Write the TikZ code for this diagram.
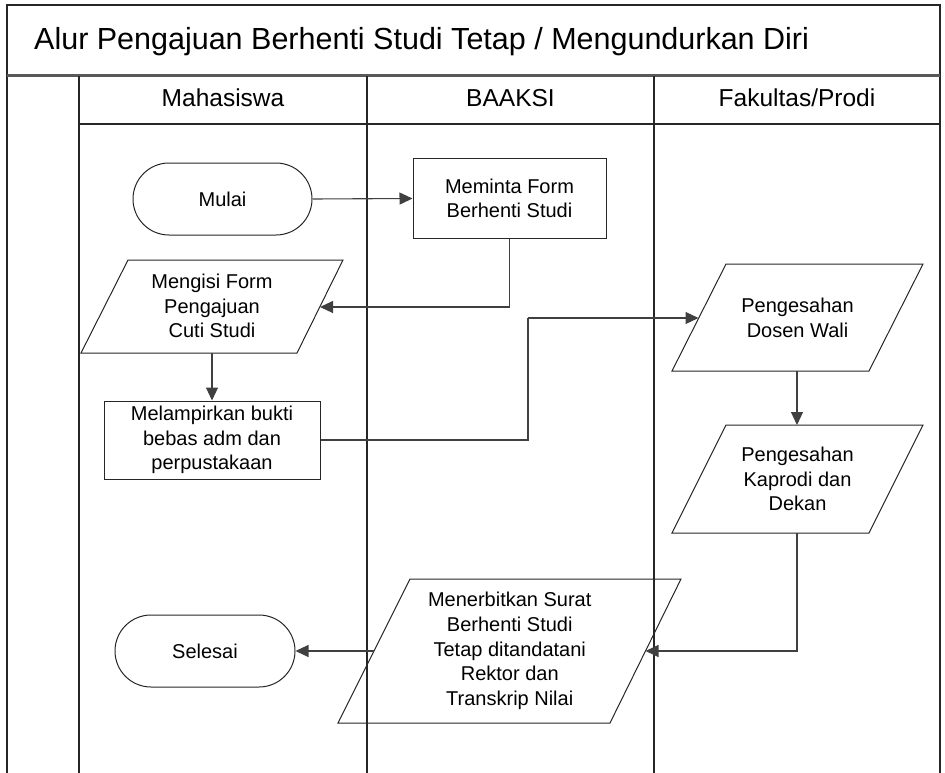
\documentclass[tikz,border=0pt]{standalone}
\usepackage{fontspec}
\setmainfont{Liberation Sans}
\usetikzlibrary{arrows.meta}
\tikzset{
  frame/.style={line width=1.3pt, black!85},
  sep/.style={line width=2.8pt, black!65},
  shp/.style={draw=black!85, line width=1pt},
  txt/.style={align=center, inner sep=0pt, font=\fontsize{20}{24.6}\selectfont},
  hdr/.style={anchor=base, inner sep=0pt, font=\fontsize{24.5}{28}\selectfont},
  conn/.style={draw=black!75, line width=1.1pt, -{Triangle[length=13pt,width=12pt]}},
  plain/.style={draw=black!75, line width=1.1pt},
  term/.style={shp, rounded corners=36pt, minimum width=179pt, minimum height=72pt, txt},
  box/.style={shp, txt}
}
\begin{document}
\begin{tikzpicture}[x=1pt,y=-1pt]
\useasboundingbox (0,0) rectangle (945,773);
% frame and lanes
\draw[frame] (7,773) -- (7,5) -- (940,5) -- (940,773);
\draw[sep] (7,75.5) -- (940,75.5);
\draw[frame] (79,76) -- (79,773);
\draw[frame] (367,76) -- (367,773);
\draw[frame] (654,76) -- (654,773);
\draw[frame] (79,124) -- (940,124);
\node[anchor=base west, inner sep=0pt, font=\fontsize{30.5}{34}\selectfont] (title) at (34,50) {Alur Pengajuan Berhenti Studi Tetap / Mengundurkan Diri};
\node[hdr] (h1) at (223,107) {Mahasiswa};
\node[hdr] (h2) at (510.5,107) {BAAKSI};
\node[hdr] (h3) at (797,107) {Fakultas/Prodi};

% shapes
\node[term] (mulai) at (222.5,199) {Mulai};
\node[box, minimum width=193pt, minimum height=79pt] (meminta) at (509.5,198.5) {Meminta Form\\Berhenti Studi};
\draw[shp] (128,260) -- (343,260) -- (297,353) -- (81,353) -- cycle;
\node[txt] (mengisi) at (212,306) {Mengisi Form\\Pengajuan\\Cuti Studi};
\node[box, minimum width=216pt, minimum height=78pt] (melampirkan) at (212,440) {Melampirkan bukti\\bebas adm dan\\perpustakaan};
\draw[shp] (726,264) -- (923,264) -- (869,371) -- (672,371) -- cycle;
\node[txt] (dosen) at (797.5,318) {Pengesahan\\Dosen Wali};
\draw[shp] (726,425) -- (923,425) -- (869,533) -- (672,533) -- cycle;
\node[txt] (kaprodi) at (797.5,479) {Pengesahan\\Kaprodi dan\\Dekan};
\draw[shp] (410,579) -- (681,579) -- (610,723) -- (338,723) -- cycle;
\node[txt] (terbit) at (509.75,651) {Menerbitkan Surat\\Berhenti Studi\\Tetap ditandatani\\Rektor dan\\Transkrip Nilai};
\node[term, minimum width=180pt] (selesai) at (205,651) {Selesai};

% connection points on parallelograms
\coordinate (mengisiR) at (320,307);
\coordinate (mengisiB) at (212,353);
\coordinate (dosenL) at (698.5,318);
\coordinate (dosenB) at (797,371);
\coordinate (kaprodiT) at (797,425);
\coordinate (kaprodiB) at (797,533);
\coordinate (terbitR) at (645.5,651);
\coordinate (terbitL) at (374,651);
\coordinate (bend1) at (528,318);

% connectors
\draw[conn] (mulai.east) -- (meminta.west);
\draw[conn] (meminta.south) |- (mengisiR);
\draw[conn] (mengisiB) -- (melampirkan.north);
\draw[plain] (melampirkan.east) -| (bend1);
\draw[conn] (bend1) -- (dosenL);
\draw[conn] (dosenB) -- (kaprodiT);
\draw[conn] (kaprodiB) |- (terbitR);
\draw[conn] (terbitL) -- (selesai.east);
\end{tikzpicture}
\end{document}
